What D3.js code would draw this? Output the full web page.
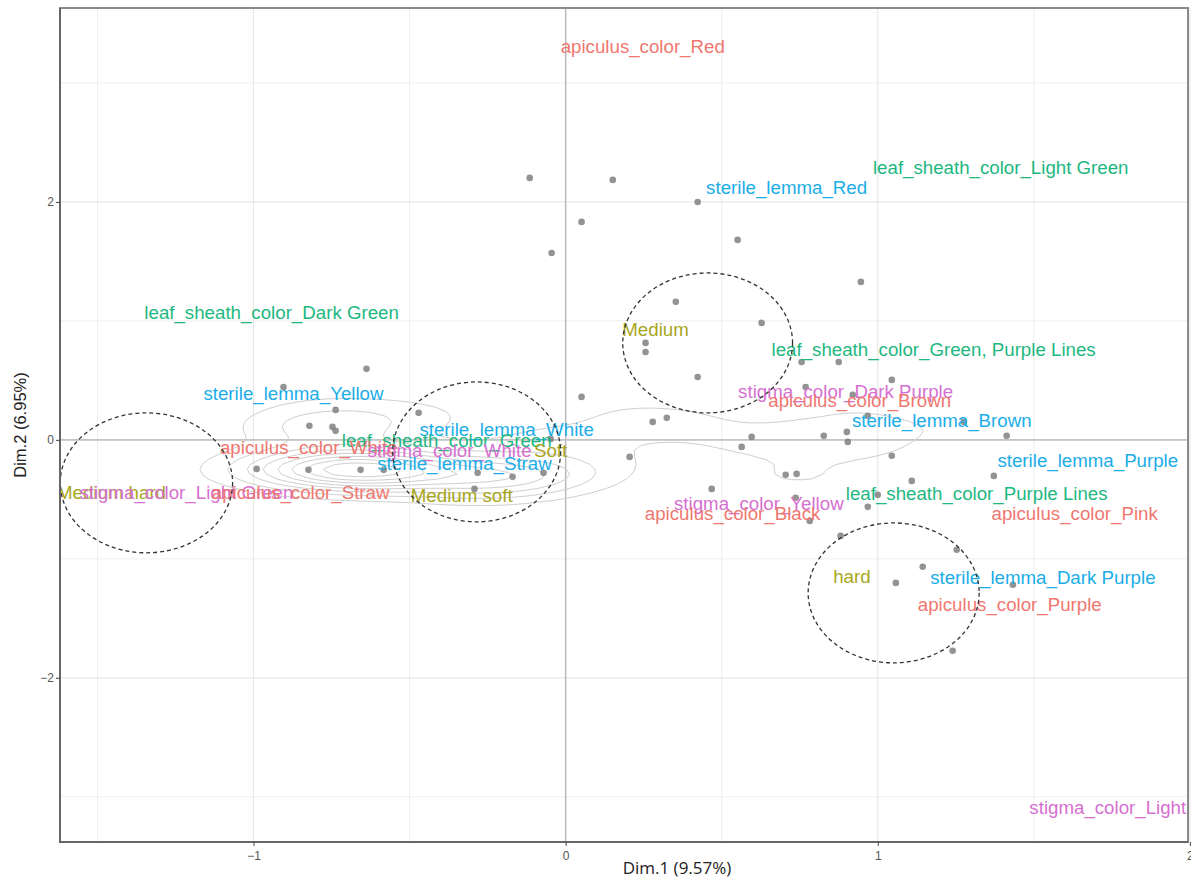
<!DOCTYPE html>
<html>
<head>
<meta charset="utf-8">
<title>MCA biplot</title>
<script src="https://cdnjs.cloudflare.com/ajax/libs/d3/7.8.5/d3.min.js"></script>
<style>
  body { margin: 0; background: #fff; }
  text { font-family: "Liberation Sans", Arial, sans-serif; }
</style>
</head>
<body>
<svg id="biplot" width="1191" height="879"></svg>
<script>
  // individuals (gray dots), Dim.1 / Dim.2 coordinates
  const indX = [-0.115, 0.151, 0.423, 0.051, -0.045, 0.551, 0.946, 0.353, 0.628, 0.256,
    0.256, 0.423, 0.756, 0.875, 1.045, 0.769, 0.920, 0.051, 0.279, 0.324,
    0.968, 0.596, 0.827, 0.901, 0.904, 0.564, 1.413, 0.205, 1.045, 0.705,
    0.740, 1.372, 1.109, 0.468, 1.000, 0.737, 0.968, 0.782, 0.881, 1.253,
    1.144, 1.058, 1.433, 1.240, -0.904, -0.737, -0.821, -0.747, -0.737, -0.471,
    -0.990, -0.824, -0.657, -0.583, -0.282, -0.170, -0.071, -0.292, -0.048, -0.638,
    1.276];
  const indY = [2.202, 2.185, 2.000, 1.832, 1.571, 1.681, 1.328, 1.160, 0.983, 0.815,
    0.739, 0.529, 0.655, 0.655, 0.504, 0.445, 0.378, 0.361, 0.151, 0.185,
    0.202, 0.025, 0.034, 0.067, -0.017, -0.059, 0.034, -0.143, -0.134, -0.294,
    -0.286, -0.303, -0.345, -0.412, -0.462, -0.487, -0.563, -0.681, -0.807, -0.924,
    -1.067, -1.202, -1.218, -1.773, 0.445, 0.252, 0.118, 0.109, 0.076, 0.227,
    -0.244, -0.252, -0.252, -0.252, -0.277, -0.311, -0.277, -0.412, 0.008, 0.597,
    0.151];
  // estimated number of individuals stacked on each dot (drives the density contours)
  const indW = [1, 1, 1, 1, 1, 1, 1, 1, 1, 1,
    1, 1, 1, 1, 1, 2, 2, 2, 3, 3,
    2, 2, 2, 2, 2, 2, 2, 2, 2, 2,
    2, 1, 1, 1, 1, 1, 1, 1, 1, 1,
    1, 1, 1, 1, 1, 3, 4, 4, 4, 4,
    3, 14, 20, 16, 8, 8, 7, 6, 5, 1,
    2];

  // variable categories
  const catNames = ["apiculus_color_Red", "leaf_sheath_color_Light Green", "sterile_lemma_Red",
    "leaf_sheath_color_Dark Green", "Medium", "leaf_sheath_color_Green, Purple Lines",
    "stigma_color_Dark Purple", "apiculus_color_Brown", "sterile_lemma_Yellow",
    "sterile_lemma_Brown", "sterile_lemma_White", "leaf_sheath_color_Green",
    "apiculus_color_White", "stigma_color_White", "Soft", "sterile_lemma_Straw",
    "Medium hard", "stigma_color_Light Green", "apiculus_color_Straw", "Medium soft",
    "stigma_color_Yellow", "apiculus_color_Black", "leaf_sheath_color_Purple Lines",
    "sterile_lemma_Purple", "apiculus_color_Pink", "hard", "sterile_lemma_Dark Purple",
    "apiculus_color_Purple", "stigma_color_Light"];
  const catX = [0.247, 1.394, 0.708, -0.942, 0.288, 1.179, 0.897, 0.942, -0.872, 1.205,
    -0.189, -0.381, -0.823, -0.372, -0.048, -0.324, -1.455, -1.215, -0.849, -0.333,
    0.619, 0.535, 1.317, 1.673, 1.631, 0.917, 1.529, 1.423, 1.737];
  const catY = [3.303, 2.286, 2.118, 1.067, 0.924, 0.756, 0.403, 0.328, 0.387, 0.160,
    0.084, -0.008, -0.067, -0.092, -0.092, -0.202, -0.445, -0.445, -0.445, -0.471,
    -0.538, -0.622, -0.454, -0.176, -0.622, -1.151, -1.160, -1.387, -3.092];
  const catGroup = [0, 2, 3, 2, 1, 2, 4, 0, 3, 3, 3, 2, 0, 4, 1, 3, 1, 4, 0, 1,
    4, 0, 2, 3, 0, 1, 3, 0, 4];

  const groupNames = ["apiculus_color", "hardness", "leaf_sheath_color", "sterile_lemma", "stigma_color"];
  const groupColors = ["#F0776F", "#A8A61C", "#1DB87F", "#1AADE8", "#D670D0"];

  // dashed rings drawn around the hardness groups: centre and radii in Dim units
  const ringX = [-1.343, -0.285, 0.455, 1.051];
  const ringY = [-0.361, -0.101, 0.815, -1.286];
  const ringRx = [0.276, 0.269, 0.272, 0.274];
  const ringRy = [0.588, 0.588, 0.588, 0.588];

  const xTicks = [-1, 0, 1, 2];
  const yTicks = [-2, 0, 2];
  const xMinor = [-1.5, -0.5, 0.5, 1.5];
  const yMinor = [-3, -1, 1, 3];

  const svg = d3.select("#biplot");
  const panel = { left: 60, right: 1188, top: 8, bottom: 842 };

  const x = d3.scaleLinear().domain([-1.62, 1.994]).range([panel.left, panel.right]);
  const y = d3.scaleLinear().domain([-3.38, 3.63]).range([panel.bottom, panel.top]);

  svg.append("clipPath").attr("id", "clip")
    .append("rect")
    .attr("x", panel.left).attr("y", panel.top)
    .attr("width", panel.right - panel.left).attr("height", panel.bottom - panel.top);

  const g = svg.append("g");

  // grid
  g.selectAll(".vminor").data(xMinor).enter().append("line")
    .attr("x1", d => x(d)).attr("x2", d => x(d))
    .attr("y1", panel.top).attr("y2", panel.bottom)
    .attr("stroke", "#efefef").attr("stroke-width", 1);
  g.selectAll(".hminor").data(yMinor).enter().append("line")
    .attr("y1", d => y(d)).attr("y2", d => y(d))
    .attr("x1", panel.left).attr("x2", panel.right)
    .attr("stroke", "#efefef").attr("stroke-width", 1);
  g.selectAll(".vmajor").data(xTicks).enter().append("line")
    .attr("x1", d => x(d)).attr("x2", d => x(d))
    .attr("y1", panel.top).attr("y2", panel.bottom)
    .attr("stroke", "#e8e8e8").attr("stroke-width", 1.2);
  g.selectAll(".hmajor").data(yTicks).enter().append("line")
    .attr("y1", d => y(d)).attr("y2", d => y(d))
    .attr("x1", panel.left).attr("x2", panel.right)
    .attr("stroke", "#e8e8e8").attr("stroke-width", 1.2);

  // zero lines
  g.append("line")
    .attr("x1", x(0)).attr("x2", x(0)).attr("y1", panel.top).attr("y2", panel.bottom)
    .attr("stroke", "#b8b8b8").attr("stroke-width", 1.4);
  g.append("line")
    .attr("y1", y(0)).attr("y2", y(0)).attr("x1", panel.left).attr("x2", panel.right)
    .attr("stroke", "#c4c4c4").attr("stroke-width", 1.8);

  // 2d density of the individuals (gaussian kernel on a grid, like kde2d)
  const n = 120;
  const sdx = 0.19, sdy = 0.12;
  const lx0 = d3.min(indX) - 0.6, lx1 = d3.max(indX) + 0.6;
  const ly0 = d3.min(indY) - 0.4, ly1 = d3.max(indY) + 0.4;
  const stepX = (lx1 - lx0) / (n - 1), stepY = (ly1 - ly0) / (n - 1);
  const totalW = d3.sum(indW);
  const dens = new Float64Array(n * n);
  for (let j = 0; j < n; j++) {
    const gy = ly0 + j * stepY;
    for (let i = 0; i < n; i++) {
      const gx = lx0 + i * stepX;
      let s = 0;
      for (let k = 0; k < indX.length; k++) {
        const dx = (gx - indX[k]) / sdx, dy = (gy - indY[k]) / sdy;
        s += indW[k] * Math.exp(-0.5 * (dx * dx + dy * dy));
      }
      dens[i + j * n] = s / (totalW * 2 * Math.PI * sdx * sdy);
    }
  }
  const maxD = d3.max(dens);
  const nLevels = 8;
  const levels = d3.range(1, nLevels + 1).map(k => maxD * k / (nLevels + 1));
  const contours = d3.contours().size([n, n]).thresholds(levels)(dens);
  const gridPath = d3.geoPath(d3.geoTransform({
    point: function (px, py) {
      this.stream.point(x(lx0 + (px - 0.5) * stepX), y(ly0 + (py - 0.5) * stepY));
    }
  }));
  g.append("g").attr("clip-path", "url(#clip)")
    .selectAll("path").data(contours).enter().append("path")
    .attr("d", gridPath)
    .attr("fill", "none")
    .attr("stroke", "#cfcfcf")
    .attr("stroke-width", 1);

  // individuals
  g.append("g").selectAll("circle").data(indX).enter().append("circle")
    .attr("cx", d => x(d))
    .attr("cy", (d, i) => y(indY[i]))
    .attr("r", 3.3)
    .attr("fill", "#808080")
    .attr("fill-opacity", 0.85);

  // category labels
  g.append("g").attr("clip-path", "url(#clip)")
    .selectAll("text").data(catNames).enter().append("text")
    .attr("x", (d, i) => x(catX[i]))
    .attr("y", (d, i) => y(catY[i]))
    .attr("text-anchor", "middle")
    .attr("dominant-baseline", "central")
    .attr("font-size", "18.7px")
    .attr("fill", (d, i) => groupColors[catGroup[i]])
    .text(d => d);

  // dashed rings
  g.append("g").selectAll("ellipse").data(ringX).enter().append("ellipse")
    .attr("cx", d => x(d))
    .attr("cy", (d, i) => y(ringY[i]))
    .attr("rx", (d, i) => x(ringRx[i]) - x(0))
    .attr("ry", (d, i) => y(0) - y(ringRy[i]))
    .attr("fill", "none")
    .attr("stroke", "#333")
    .attr("stroke-width", 1.3)
    .attr("stroke-dasharray", "4,3");

  // panel border
  g.append("rect")
    .attr("x", panel.left).attr("y", panel.top)
    .attr("width", panel.right - panel.left).attr("height", panel.bottom - panel.top)
    .attr("fill", "none").attr("stroke", "#8a8a8a").attr("stroke-width", 2);
  g.append("path")
    .attr("d", `M${panel.left},${panel.top}V${panel.bottom}H${panel.right}`)
    .attr("fill", "none").attr("stroke", "#666").attr("stroke-width", 2);

  // axes
  const xAxis = g.append("g")
    .attr("transform", `translate(0,${panel.bottom})`)
    .call(d3.axisBottom(x).tickValues(xTicks).tickSize(4).tickPadding(5).tickFormat(d3.format("d")));
  const yAxis = g.append("g")
    .attr("transform", `translate(${panel.left},0)`)
    .call(d3.axisLeft(y).tickValues(yTicks).tickSize(4).tickPadding(2).tickFormat(d3.format("d")));
  [xAxis, yAxis].forEach(a => {
    a.select(".domain").remove();
    a.selectAll(".tick line").attr("stroke", "#444");
    a.selectAll(".tick text")
      .attr("fill", "#555")
      .style("font-family", "\"Liberation Sans\", Arial, sans-serif")
      .style("font-size", "12px");
  });

  svg.append("text")
    .attr("x", 677).attr("y", 874)
    .attr("text-anchor", "middle")
    .style("font-family", "\"Open Sans\", sans-serif")
    .style("font-size", "17px")
    .attr("fill", "#222")
    .text("Dim.1 (9.57%)");

  svg.append("text")
    .attr("transform", "translate(26,425) rotate(-90)")
    .attr("text-anchor", "middle")
    .style("font-size", "16.5px")
    .attr("fill", "#222")
    .text("Dim.2 (6.95%)");
</script>
</body>
</html>
